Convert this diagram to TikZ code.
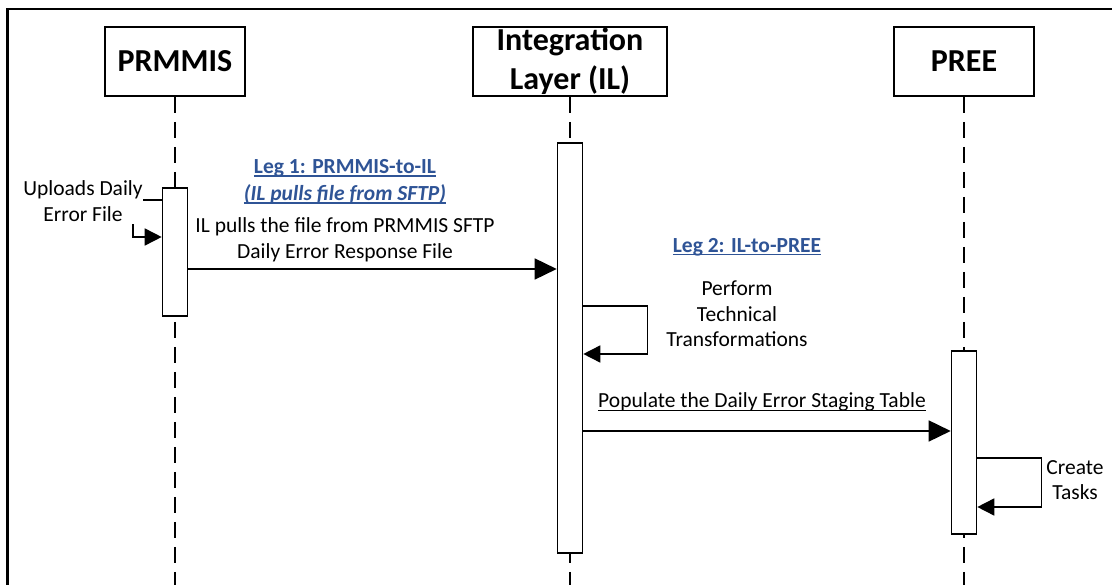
\documentclass[tikz,border=0pt]{standalone}
\usepackage{fontspec}
\setmainfont{Carlito}
\usetikzlibrary{arrows.meta}
\definecolor{legblue}{RGB}{47,84,150}
\newcommand\myul[1]{\setbox0\hbox{#1}\rlap{\rule[-3.2pt]{\wd0}{1.3pt}}\box0}
\begin{document}
\begin{tikzpicture}[x=1pt,y=-1pt,
  lane/.style={draw, line width=1.8pt, minimum width=140pt, minimum height=69pt, inner sep=0pt},
  lanetext/.style={font=\fontsize{32}{39}\selectfont\bfseries, align=center, inner sep=0pt},
  life/.style={line width=1.6pt, dash pattern=on 16pt off 9pt},
  actbox/.style={draw, fill=white, line width=1.6pt, minimum width=25pt, inner sep=0pt},
  msg/.style={line width=1.6pt, -{Triangle[length=22pt,width=21pt]}},
  selfmsg/.style={line width=1.6pt, -{Triangle[length=17pt,width=17pt]}},
  lbl/.style={font=\fontsize{21.5}{26}\selectfont, align=center, inner sep=0pt},
  leg/.style={font=\fontsize{21.5}{27}\selectfont\bfseries, text=legblue, align=center, inner sep=0pt}
]
\useasboundingbox (0,0) rectangle (1112,585);
\begin{scope}
  \clip (0,0) rectangle (1112,585);
  \draw[line width=2.6pt] (7.5,9) rectangle (1130,600);
\end{scope}

% lanes
\node[lane] (prm) at (175,61.5) {};
\node[lanetext] (prmt) at (prm.center) {PRMMIS};
\node[lane, minimum width=194pt] (il) at (570,61.5) {};
\node[lanetext] (ilt) at (il.center) {Integration\\Layer (IL)};
\node[lane] (pree) at (964,61.5) {};
\node[lanetext] (preet) at (pree.center) {PREE};

\coordinate (bot) at (0,585);
\draw[life] (prm.south) -- (prm.south |- bot);
\draw[life] (il.south) -- (il.south |- bot);
\draw[life] (pree.south) -- (pree.south |- bot);

% activations
\node[actbox, minimum height=128pt] (actP) at (175,252) {};
\node[actbox, minimum height=410pt] (actI) at (570,348) {};
\node[actbox, minimum height=183pt] (actE) at (964,442.5) {};

% y levels
\coordinate (s1a) at (0,200);
\coordinate (s1b) at (0,237);
\coordinate (m1) at (0,269);
\coordinate (s2a) at (0,306);
\coordinate (s2b) at (0,354);
\coordinate (m2) at (0,431);
\coordinate (s3a) at (0,458);
\coordinate (s3b) at (0,507);

% self message PRMMIS
\draw[selfmsg] (actP.west |- s1a) -- ++(-29,0) |- (actP.west |- s1b);
\node[lbl, fill=white, inner ysep=2pt] (upl) at (83,201) {Uploads Daily\\Error File};

% message 1
\draw[msg] (actP.east |- m1) -- (actI.west |- m1);
\node[leg] (leg1) at (345,181.5) {\myul{Leg 1: PRMMIS-to-IL}\\\myul{\itshape(IL pulls file from SFTP)}};
\node[lbl] (m1t) at (345,240) {IL pulls the file from PRMMIS SFTP\\Daily Error Response File};

% leg 2
\node[leg] (leg2) at (747,247) {\myul{Leg 2: IL-to-PREE}};

% self message IL
\draw[selfmsg] (actI.east |- s2a) -- ++(64,0) |- (actI.east |- s2b);
\node[lbl, font=\fontsize{21.5}{25.5}\selectfont] (tt) at (737,314) {Perform\\Technical\\Transformations};

% message 2
\draw[msg] (actI.east |- m2) -- (actE.west |- m2);
\node[lbl] (m2t) at (762,402) {\myul{Populate the Daily Error Staging Table}};

% self message PREE
\draw[selfmsg] (actE.east |- s3a) -- ++(64,0) |- (actE.east |- s3b);
\node[lbl, font=\fontsize{21.5}{25}\selectfont] (ct) at (1075,480.5) {Create\\Tasks};
\end{tikzpicture}
\end{document}
